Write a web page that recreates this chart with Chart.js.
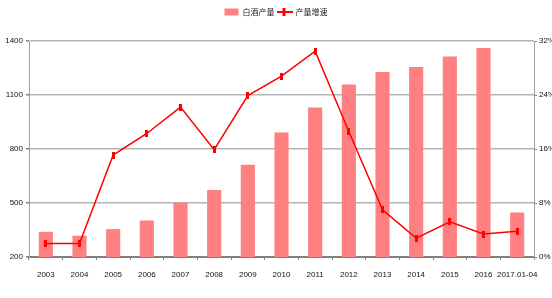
<!DOCTYPE html>
<html>
<head>
<meta charset="utf-8">
<script src="https://cdn.jsdelivr.net/npm/chart.js@4.4.1/dist/chart.umd.min.js"></script>
<style>
  html, body { margin: 0; padding: 0; background: #fff; }
  #wrap { width: 552px; height: 298px; position: relative; }
</style>
</head>
<body>
<div id="wrap"><canvas id="liquorChart" width="552" height="298"></canvas></div>
<script>
const years = ['2003', '2004', '2005', '2006', '2007', '2008', '2009', '2010', '2011', '2012', '2013', '2014', '2015', '2016', '2017.01-04']
// 白酒产量 (万千升)
const output = [340, 318, 355, 403, 503, 572, 713, 892, 1030, 1158, 1228, 1256, 1314, 1361, 447]
// 产量增速 (%)
const growth = [2.0, 2.0, 15.1, 18.3, 22.2, 15.9, 23.9, 26.8, 30.5, 18.6, 7.0, 2.8, 5.2, 3.4, 3.8]
const leftTicks = [200, 500, 800, 1100, 1400]
const rightTicks = [0, 8, 16, 24, 32]

const tickFont = { family: '"Liberation Sans Narrow", "Liberation Sans", Arial, sans-serif', size: 8 }

// small vertical dash used as the line marker
const marker = document.createElement('canvas')
marker.width = 3
marker.height = 7
const mctx = marker.getContext('2d')
mctx.fillStyle = '#ff0000'
mctx.fillRect(0, 0, 3, 7)

// legend swatch: line with marker in the middle
const lineSwatch = document.createElement('canvas')
lineSwatch.width = 16
lineSwatch.height = 8
const lctx = lineSwatch.getContext('2d')
lctx.fillStyle = '#ff0000'
lctx.fillRect(0, 3, 16, 2)
lctx.fillRect(6, 0, 3, 8)

// push the plot area down a bit below the legend
const legendGap = {
  id: 'legendGap',
  beforeLayout (chart) {
    const legend = chart.legend
    if (!legend || legend._gapPatched) return
    const origFit = legend.fit
    legend.fit = function () {
      origFit.call(this)
      this.height += 15
    }
    legend._gapPatched = true
  }
}

const ctx = document.getElementById('liquorChart').getContext('2d')
new Chart(ctx, {
  data: {
    labels: years,
    datasets: [
      {
        type: 'line',
        label: '产量增速',
        data: growth,
        yAxisID: 'yRight',
        borderColor: '#ff0000',
        backgroundColor: '#ff0000',
        borderWidth: 1.5,
        pointStyle: marker,
        tension: 0,
        order: 1
      },
      {
        type: 'bar',
        label: '白酒产量',
        data: output,
        yAxisID: 'yLeft',
        backgroundColor: '#ff8080',
        borderWidth: 0,
        pointStyle: 'rect',
        barPercentage: 0.42,
        categoryPercentage: 1,
        order: 2
      }
    ]
  },
  plugins: [legendGap],
  options: {
    responsive: false,
    animation: false,
    layout: { padding: { top: 5, left: 0, right: 0, bottom: 0 } },
    plugins: {
      legend: {
        display: true,
        reverse: true,
        labels: {
          font: { family: '"Noto Sans CJK SC", sans-serif', size: 8 },
          color: '#222',
          boxWidth: 14,
          boxHeight: 7,
          padding: 3,
          usePointStyle: true,
          pointStyleWidth: 14,
          generateLabels: (chart) => {
            const items = Chart.defaults.plugins.legend.labels.generateLabels(chart)
            items.forEach(item => {
              if (item.datasetIndex === 0) item.pointStyle = lineSwatch
            })
            return items
          }
        }
      },
      tooltip: { enabled: false }
    },
    scales: {
      x: {
        offset: true,
        grid: {
          offset: true,
          drawOnChartArea: false,
          drawTicks: true,
          tickLength: 3,
          color: '#808080'
        },
        border: { color: '#808080', width: 2 },
        ticks: { font: tickFont, color: '#111', maxRotation: 0, autoSkip: false, padding: 10 },
        afterFit: (scale) => { scale.height = 41 }
      },
      yLeft: {
        position: 'left',
        min: 200,
        max: 1400,
        afterBuildTicks: (scale) => { scale.ticks = leftTicks.map(v => ({ value: v })) },
        grid: { color: '#b4b4b4', lineWidth: 1.5, tickLength: 3, tickColor: '#808080' },
        border: { color: '#a0a0a0', width: 1 },
        ticks: { font: tickFont, color: '#111', padding: 3, callback: (v) => String(v) },
        afterFit: (scale) => { scale.width = 29 }
      },
      yRight: {
        position: 'right',
        min: 0,
        max: 32,
        afterBuildTicks: (scale) => { scale.ticks = rightTicks.map(v => ({ value: v })) },
        grid: { drawOnChartArea: false, tickLength: 3, tickColor: '#808080' },
        border: { color: '#a0a0a0', width: 1 },
        ticks: { font: tickFont, color: '#111', padding: 2, callback: (v) => v + '%' },
        afterFit: (scale) => { scale.width = 18 }
      }
    }
  }
})
</script>
</body>
</html>
